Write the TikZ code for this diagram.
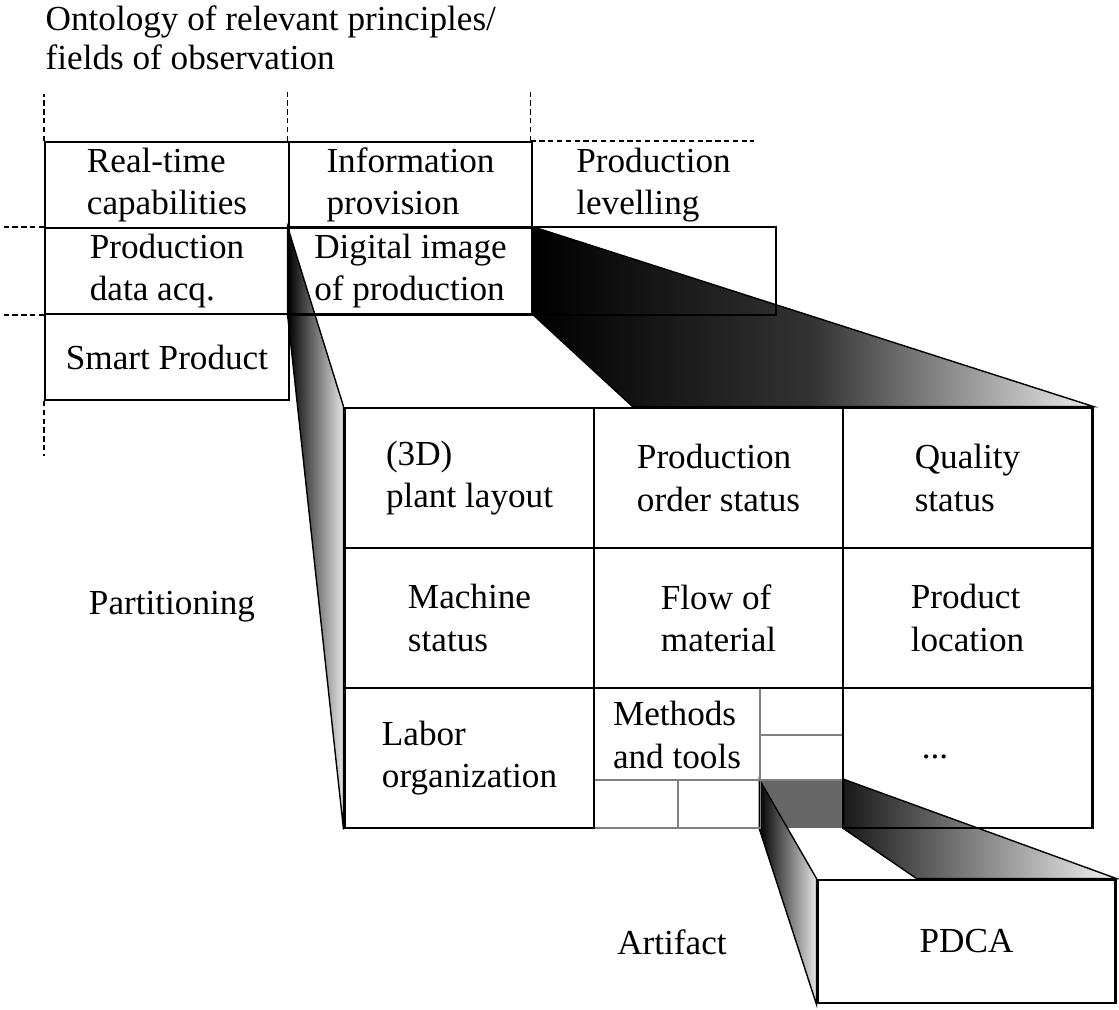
\documentclass[tikz,border=0pt]{standalone}
\usepackage{fontspec}
\setmainfont{Liberation Serif}
\usetikzlibrary{positioning,backgrounds}
\tikzset{cell/.style={draw, semithick, inner sep=0pt, align=left, minimum width=2.435cm, minimum height=0.86cm},
         part/.style={draw, thick, inner sep=0pt, align=left, minimum width=2.49cm, minimum height=1.4cm},
         subcell/.style={draw=gray, line width=0.3pt, inner sep=0pt},
         guide/.style={thin, dash pattern=on 1.5pt off 1pt},
         zoomin/.style={thin, left color=black, right color=black!10},
         txt/.style={inner sep=0pt, align=left}
}

\begin{document}
\begin{tikzpicture}[x=0.01cm, y=-0.01cm]
    \useasboundingbox (0,0) rectangle (1119,1010);
        % ontology (top left)
        \node[txt, anchor=north west, font=\fontsize{10}{11}\selectfont] (title) at (45,5) {Ontology of relevant principles/\\fields of observation};
        \node[cell] (rt) at (167,185) {Real-time\\capabilities};
        \node[cell] (ip) at (410.5,185) {Information\\provision};
        \node[cell, draw=none] (pl) at (653.5,185) {Production\\levelling};
        \node[cell] (pd) at (167,271) {Production\\data acq.};
        \node[cell] (dig) at (410.5,271) {Digital image\\of production};
        \node[cell] (sp) at (167,357) {Smart Product};
        \draw[semithick] (dig.north west) rectangle (dig.south east -| pl.east);
        \draw[guide] (rt.north west) -- ++(0,-47);
        \draw[guide] (ip.north west) -- ++(0,-50);
        \draw[guide] (pl.north west) -- ++(0,-49);
        \draw[guide] (pl.north west) -- ++(223,0);
        \draw[guide] (pd.north west) -- ++(-45,0);
        \draw[guide] (pd.south west) -- ++(-45,0);
        \draw[guide] (sp.south west) -- ++(0,55);
        % partitioning
        \node[txt] (part) at (172,607) {Partitioning};
        \node[subcell, minimum width=0.83cm, minimum height=0.47cm] (s1) at (801.5,711.5) {};
        \node[subcell, minimum width=0.83cm, minimum height=0.45cm] (s2) at (801.5,757.5) {};
        \node[subcell, minimum width=0.84cm, minimum height=0.48cm] (s3) at (636,804) {};
        \node[subcell, minimum width=0.82cm, minimum height=0.48cm] (s4) at (719,804) {};
        \node[part] (g11) at (469.5,478) {(3D)\\plant layout};
        \node[part] (g12) at (718.5,478) {Production\\order status};
        \node[part] (g13) at (967.5,478) {Quality\\status};
        \node[part] (g21) at (469.5,618) {Machine\\status};
        \node[part] (g22) at (718.5,618) {Flow of\\material};
        \node[part] (g23) at (967.5,618) {Product\\location};
        \node[part] (g31) at (469.5,758) {Labor\\organization};
        \node[part, draw=none] (g32) at (718.5,758) {};
        \node[part] (g33) at (967.5,758) {};
        \node[txt] (mt) at (677,735) {Methods\\and tools};
        \node[txt] (dots) at (935,757) {...};
        % artifact
        \node[txt] (art) at (672,942) {Artifact};
        \node[draw, thick, minimum width=2.97cm, minimum height=1.23cm] (pdca) at (966.5,941.5) {PDCA};
    \begin{pgfonlayer}{background}
        \shadedraw[zoomin] (dig.north west) -- (g11.north west) -- (g31.south west) -- (dig.south west) -- cycle;
        \shadedraw[zoomin, right color=black!8, middle color=black!80] (dig.north east) -- (g13.north east) -- ([xshift=0.4cm]g12.north west) -- (dig.south east) -- cycle;
        \node[fill=black!60, inner sep=0pt, minimum width=0.83cm, minimum height=0.48cm] (sq) at (801.5,804) {};
        \shadedraw[zoomin] (sq.north west) -- (pdca.north west) -- (pdca.south west) -- (sq.south west) -- cycle;
        \shadedraw[thin, left color=black!90, right color=black!5] (sq.north east) -- (pdca.north east) -- ([xshift=1cm]pdca.north west) -- (sq.south east) -- cycle;
    \end{pgfonlayer}
\end{tikzpicture}
\end{document}
